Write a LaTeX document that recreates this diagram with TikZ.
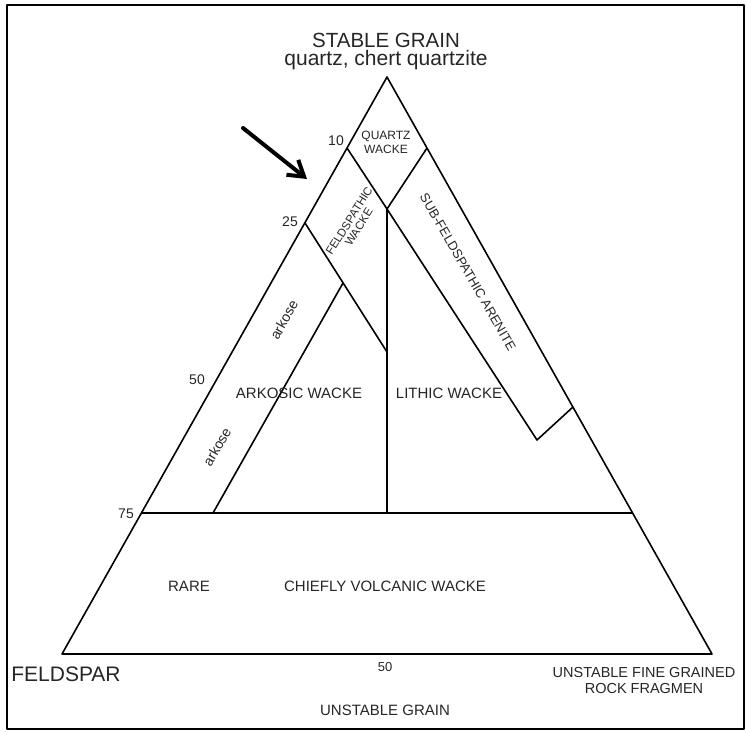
\documentclass[tikz,border=0pt]{standalone}
\usepackage{fontspec}
\setmainfont{Liberation Sans}
\usetikzlibrary{arrows.meta}
\begin{document}
\begin{tikzpicture}[x=1pt,y=-1pt,line join=round,
  edge/.style={line width=1.6pt},
  lbl/.style={inner sep=0pt,align=center,text=black!85},
  fs/.style={font=\fontsize{#1}{#1}\selectfont}]
\useasboundingbox (0,0) rectangle (746,731);
\draw[line width=2pt] (7,5) rectangle (744,729);
% points
\coordinate (A) at (387,77);
\coordinate (F) at (62,654);
\coordinate (U) at (712,654);
\coordinate (q10L) at (347,148);
\coordinate (q10R) at (427,148);
\coordinate (J) at (387,209);
\coordinate (f25) at (305,223);
\coordinate (fv) at (387,352);
\coordinate (ak) at (343,283);
\coordinate (akb) at (213,513);
\coordinate (L75) at (141,513);
\coordinate (R75) at (633,513);
\coordinate (V75) at (387,513);
\coordinate (sE) at (537,440);
\coordinate (sR) at (573,407);
\coordinate (arS) at (243,128);
\coordinate (arT) at (307,179);
% lines
\draw[edge] (A) -- (F) -- (U) -- cycle;
\draw[edge] (L75) -- (R75);
\draw[edge] (q10L) -- (J) -- (sE) -- (sR);
\draw[edge] (q10R) -- (J) -- (V75);
\draw[edge] (f25) -- (fv);
\draw[edge] (ak) -- (akb);
\draw[line width=4pt,line cap=round,-{Straight Barb[length=15pt,width=19pt]}] (arS) -- (arT);
% texts
\node[lbl,fs=20.5] (title) at (386,40) {STABLE GRAIN};
\node[lbl,fs=21] (sub) at (386,60) {quartz, chert quartzite};
\node[lbl,font=\fontsize{12}{14}\selectfont] (qw) at (386,142) {QUARTZ\\WACKE};
\node[lbl,font=\fontsize{11.5}{11.5}\selectfont,rotate=58] (fw) at (354,224) {FELDSPATHIC\\WACKE};
\node[lbl,fs=13,rotate=-60] (sfa) at (468,272) {SUB-FELDSPATHIC ARENITE};
\node[lbl,fs=14,rotate=61] (ark1) at (284,320) {arkose};
\node[lbl,fs=14,rotate=60] (ark2) at (217,447) {arkose};
\node[lbl,fs=15] (aw) at (299,393) {ARKOSIC WACKE};
\node[lbl,fs=15] (lw) at (449,393) {LITHIC WACKE};
\node[lbl,fs=15] (rare) at (189,586) {RARE};
\node[lbl,fs=15] (cvw) at (385,586) {CHIEFLY VOLCANIC WACKE};
\node[lbl,fs=14] (t10) at (336,141) {10};
\node[lbl,fs=14] (t25) at (290,222) {25};
\node[lbl,fs=14] (t50) at (197,380) {50};
\node[lbl,fs=14] (t75) at (126,514) {75};
\node[lbl,fs=13] (b50) at (385,667) {50};
\node[lbl,fs=21] (feld) at (66,674) {FELDSPAR};
\node[lbl,font=\fontsize{14.5}{16}\selectfont] (ufg) at (644,680) {UNSTABLE FINE GRAINED\\ROCK FRAGMEN};
\node[lbl,fs=15] (ug) at (385,710) {UNSTABLE GRAIN};
\end{tikzpicture}
\end{document}
